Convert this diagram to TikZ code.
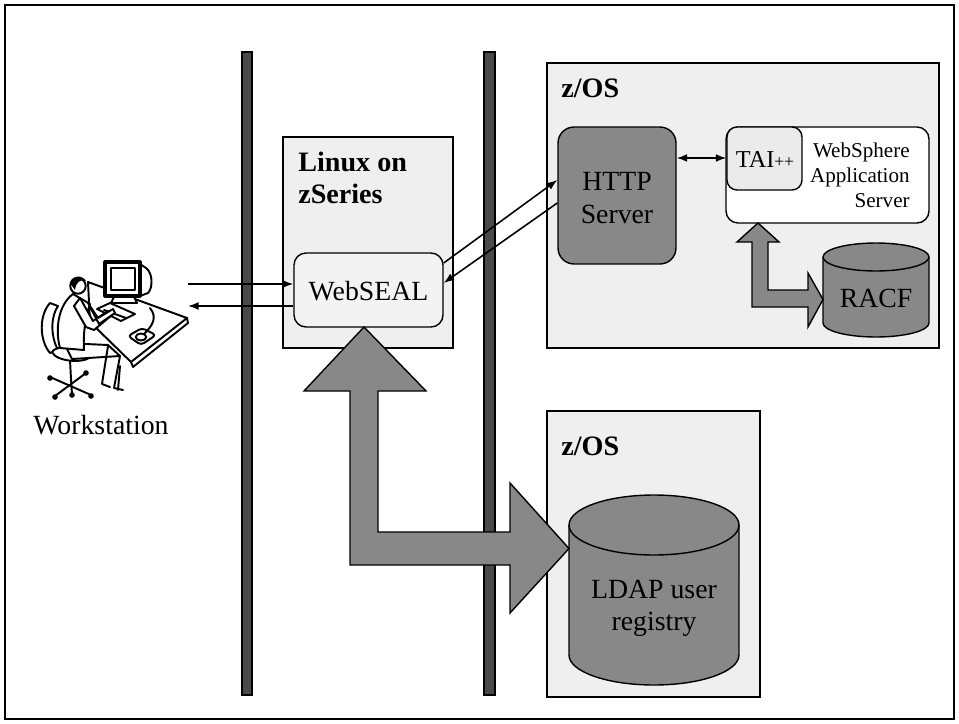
\documentclass[tikz,border=0pt]{standalone}
\usepackage{fontspec}
\setmainfont{Liberation Serif}
\usetikzlibrary{arrows.meta,calc}
\definecolor{panelgray}{HTML}{EFEFEF}
\definecolor{lightgray}{HTML}{F3F3F3}
\definecolor{taigray}{HTML}{EBEBEB}
\definecolor{midgray}{HTML}{888888}
\definecolor{bargray}{HTML}{4A4A4A}
\begin{document}
\begin{tikzpicture}[x=0.02cm,y=-0.02cm,
  panel/.style={draw, fill=panelgray, line width=0.8pt, inner sep=0pt},
  softbox/.style={draw, fill=lightgray, line width=0.8pt, inner sep=0pt, rounded corners=0.24cm},
  darkbox/.style={draw, fill=midgray, line width=0.8pt, inner sep=0pt, rounded corners=0.32cm},
  wall/.style={draw, fill=bargray, line width=0.6pt},
  fat/.style={draw, fill=midgray, line width=0.8pt, line join=miter},
  cyl/.style={draw, fill=midgray, line width=0.8pt},
  link/.style={line width=0.9pt, -{Latex[length=6pt,width=4.5pt]}},
  dlink/.style={line width=0.9pt, {Latex[length=6pt,width=4.5pt]}-{Latex[length=6pt,width=4.5pt]}},
  lbl/.style={font=\fontsize{15.8}{18.7}\selectfont, inner sep=0pt, align=center},
  small/.style={font=\fontsize{12}{14}\selectfont, inner sep=0pt, align=right},
  title/.style={font=\bfseries\fontsize{16}{18}\selectfont, inner sep=0pt, anchor=base west, align=left},
  art/.style={line width=1.1pt, line join=round, line cap=round}]

\useasboundingbox (0,0) rectangle (959,723);
\draw[line width=1pt] (5,5) rectangle (954,719);

% network boundaries
\draw[wall] (242,52) rectangle (252,695);
\draw[wall] (484,52) rectangle (495,695);

% Linux on zSeries
\node[panel, minimum width=3.4cm, minimum height=4.22cm] (linux) at (368,242.5) {};
\node[title] (linuxT) at (298,171) {Linux on};
\node[title] (linuxT2) at (298,203) {zSeries};
\node[softbox, minimum width=2.98cm, minimum height=1.48cm] (webseal) at (368.5,290) {};
\node[lbl, anchor=base] (websealT) at (368.5,300) {WebSEAL};

% upper z/OS
\node[panel, minimum width=7.84cm, minimum height=5.7cm] (zos1) at (743,205.5) {};
\node[title] (zos1T) at (561,97) {z/OS};
\node[darkbox, minimum width=2.36cm, minimum height=2.74cm] (http) at (617,195.5) {};
\node[lbl, anchor=base] (httpT) at (617,190) {HTTP};
\node[lbl, anchor=base] (httpT2) at (617,223) {Server};
\node[draw, fill=white, line width=0.8pt, rounded corners=0.24cm, minimum width=4.06cm, minimum height=1.92cm] (was) at (827.5,175) {};
\node[draw, fill=taigray, line width=0.8pt, rounded corners=0.2cm, minimum width=1.5cm, minimum height=1.26cm] (tai) at (764.5,158.5) {};
\node[font=\fontsize{13.8}{16}\selectfont, inner sep=0pt, anchor=base] (taiT) at (765,167) {TAI{\fontsize{10}{12}\selectfont ++}};
\node[small, anchor=base east] (wasT1) at (910,157) {WebSphere};
\node[small, anchor=base east] (wasT2) at (910,182) {Application};
\node[small, anchor=base east] (wasT3) at (910,207) {Server};

% RACF database
\draw[cyl] (823,257) -- (823,323) arc[start angle=180,end angle=360,x radius=1.06cm,y radius=0.28cm]
  -- (929,257) arc[start angle=0,end angle=180,x radius=1.06cm,y radius=0.28cm] -- cycle;
\draw[line width=0.8pt] (823,257) arc[start angle=180,end angle=360,x radius=1.06cm,y radius=0.28cm];
\node[lbl, anchor=base] (racf) at (876,307) {RACF};

% WebSphere <-> RACF
\draw[fat] (758,223) -- (779,242) -- (768,242) -- (768,290) -- (808,290) -- (808,273) -- (823,299.5)
  -- (808,327) -- (808,307) -- (752,307) -- (752,242) -- (737,242) -- cycle;

% lower z/OS
\node[panel, minimum width=4.26cm, minimum height=5.72cm] (zos2) at (653.5,554) {};
\node[title] (zos2T) at (561,455) {z/OS};
\draw[cyl] (569,525) -- (569,655) arc[start angle=180,end angle=360,x radius=1.7cm,y radius=0.6cm]
  -- (739,525) arc[start angle=0,end angle=180,x radius=1.7cm,y radius=0.6cm] -- cycle;
\draw[line width=0.8pt] (569,525) arc[start angle=180,end angle=360,x radius=1.7cm,y radius=0.6cm];
\node[lbl, anchor=base] (ldap) at (654,598) {LDAP user};
\node[lbl, anchor=base] (ldap2) at (654,630) {registry};

% WebSEAL <-> LDAP
\draw[fat] (364,327) -- (426,391) -- (378,391) -- (378,532) -- (510,532) -- (510,483) -- (569,548.5)
  -- (510,613) -- (510,565) -- (350,565) -- (350,391) -- (304,391) -- cycle;

% workstation figure
\begin{scope}[art]
  % desk
  \draw[fill=white] (88,282) -- (187,318) -- (131,362) -- (90,322) -- cycle;
  \draw (187,318) -- (188,323) -- (133,367) -- (131,362);
  \draw (120,366) -- (118,390);
  % monitor
  \draw[fill=white] (140,264) -- (146,268) .. controls (153,273) and (153,288) .. (148,293) -- (140,296);
  \draw[line width=1.8pt, fill=white] (105,262) rectangle (140,296);
  \draw[line width=0.7pt] (111,268) rectangle (135,290);
  \draw[fill=white] (114,297) -- (134,297) -- (137,303) -- (111,303) -- cycle;
  % keyboard
  \draw[fill=white] (97,309) -- (110,303) -- (135,314) -- (121,321) -- cycle;
  \draw (104,310) -- (126,318);
  % mouse and pad
  \draw[fill=white, rounded corners=2pt] (128,336) -- (142,328) -- (156,335) -- (141,345) -- cycle;
  \draw[fill=white] (141,337) ellipse [x radius=3pt, y radius=2pt];
  \draw (144,334) .. controls (152,326) and (158,318) .. (150,308);
  % chair back
  \draw[fill=white] (50,303) .. controls (39,315) and (39,340) .. (50,353) -- (58,350)
    .. controls (50,335) and (51,316) .. (58,306) -- cycle;
  % chair column and base
  \draw (70,360) -- (71,379);
  \draw (50,377) -- (91,395);
  \draw (55,396) -- (86,373);
  \draw (71,379) -- (72,394);
  \foreach \p in {(50,378),(91,396),(55,397),(86,373),(72,395)}
    \fill \p circle (1.6pt);
  % seat
  \draw[fill=white] (52,352) .. controls (56,344) and (86,347) .. (91,356)
    .. controls (86,364) and (56,362) .. (52,352) -- cycle;
  % legs
  \draw[fill=white] (64,343) -- (108,345) -- (120,356) -- (72,359) -- cycle;
  \draw (108,346) -- (102,384) -- (110,387);
  \draw (120,356) -- (114,388) -- (123,390);
  % torso
  \draw[fill=white] (73,294) .. controls (58,305) and (55,330) .. (60,348)
    -- (84,350) .. controls (83,335) and (85,318) .. (90,304) -- cycle;
  % arms
  \draw[fill=white] (80,298) -- (93,321) -- (108,311) -- (112,315) -- (94,330) -- (86,327) -- (74,306) -- cycle;
  \draw[fill=white] (88,303) -- (98,318) -- (113,309) -- (115,313) -- (99,324) -- cycle;
  % head
  \draw[fill=white] (78,286) circle (4.4pt);
  \fill (70,283) .. controls (71,276) and (82,274) .. (86,281) .. controls (80,279) and (76,282) .. (75,290) -- cycle;
\end{scope}
\node[lbl, anchor=base] (ws) at (101,434) {Workstation};

% message flows
\coordinate (wsOut) at (188,284);
\coordinate (wsIn) at (188,306);
\draw[link] (wsOut) -- (webseal.west |- wsOut);
\draw[link] (webseal.west |- wsIn) -- (wsIn);
\draw[link] (webseal.east |- 0,263) -- (http.west |- 0,180);
\draw[link] (http.west |- 0,203) -- (webseal.east |- 0,283);
\draw[dlink] (http.east |- 0,158) -- (tai.west |- 0,158);
\end{tikzpicture}
\end{document}
